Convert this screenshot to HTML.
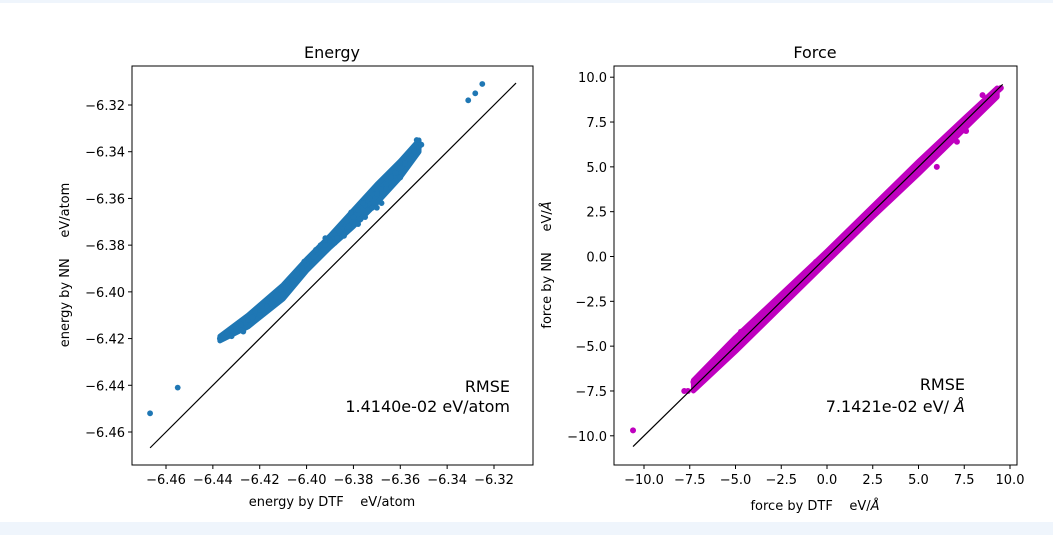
<!DOCTYPE html>
<html><head><meta charset="utf-8"><style>
body{margin:0;width:1053px;height:535px;overflow:hidden;background:#fff;font-family:"Liberation Sans","DejaVu Sans",sans-serif}
#bot{position:absolute;left:0;top:522px;width:1053px;height:13px;background:#eff5fc}
#top{position:absolute;left:0;top:0;width:1053px;height:3px;background:#eff5fc}
svg{position:absolute;left:0;top:0}
text{font-family:"DejaVu Sans","Liberation Sans",sans-serif;fill:#000}
</style></head><body>
<div id="top"></div>
<div id="bot"></div>
<svg id="chart" width="1053" height="535"></svg>
<script>
const energyTicks=[-6.46,-6.44,-6.42,-6.40,-6.38,-6.36,-6.34,-6.32];
const energyLine=[-6.4668,-6.3106];
const energyBandX=[-6.437,-6.425,-6.410,-6.400,-6.390,-6.380,-6.370,-6.360,-6.352];
const energyBandUpper=[-6.419,-6.410,-6.397,-6.386,-6.376,-6.365,-6.354,-6.344,-6.335];
const energyBandLower=[-6.421,-6.415,-6.403,-6.391,-6.381,-6.372,-6.362,-6.351,-6.340];
const energyDFT=[-6.4668,-6.4550,-6.4370,-6.4355,-6.4340,-6.4320,-6.4300,-6.4280,-6.4270,-6.4250,-6.4230,-6.4220,-6.4200,-6.4190,-6.4170,-6.4150,-6.4130,-6.4110,-6.4100,-6.4080,-6.4060,-6.4040,-6.4020,-6.4000,-6.3990,-6.3970,-6.3950,-6.3940,-6.3920,-6.3900,-6.3880,-6.3870,-6.3850,-6.3830,-6.3820,-6.3800,-6.3780,-6.3770,-6.3750,-6.3730,-6.3720,-6.3700,-6.3680,-6.3660,-6.3640,-6.3620,-6.3600,-6.3580,-6.3560,-6.3540,-6.3520,-6.3530,-6.3510,-6.3780,-6.3750,-6.3700,-6.3680,-6.3880,-6.3840,-6.3920,-6.3960,-6.4010,-6.3860,-6.3810,-6.3760,-6.3660,-6.3600,-6.3310,-6.3280,-6.3250];
const energyNN=[-6.4520,-6.4410,-6.4200,-6.4195,-6.4175,-6.4190,-6.4160,-6.4140,-6.4170,-6.4120,-6.4110,-6.4080,-6.4100,-6.4060,-6.4040,-6.4050,-6.4020,-6.3990,-6.4010,-6.3960,-6.3950,-6.3920,-6.3900,-6.3880,-6.3860,-6.3850,-6.3830,-6.3800,-6.3800,-6.3780,-6.3750,-6.3770,-6.3730,-6.3700,-6.3720,-6.3680,-6.3650,-6.3690,-6.3630,-6.3600,-6.3640,-6.3580,-6.3560,-6.3540,-6.3510,-6.3490,-6.3470,-6.3450,-6.3430,-6.3400,-6.3380,-6.3350,-6.3370,-6.3710,-6.3680,-6.3640,-6.3620,-6.3790,-6.3760,-6.3770,-6.3820,-6.3870,-6.3740,-6.3660,-6.3620,-6.3560,-6.3510,-6.3180,-6.3150,-6.3110];
const forceTicks=[-10,-7.5,-5,-2.5,0,2.5,5,7.5,10];
const forceTickLabels=["\u221210.0","\u22127.5","\u22125.0","\u22122.5","0.0","2.5","5.0","7.5","10.0"];
const forceLine=[-10.6,9.6];
const forceBandX=[-7.3,-5.0,-2.5,0.0,2.5,5.0,7.5,9.3];
const forceBandUpper=[-6.9,-4.5,-2.1,0.3,2.8,5.3,7.7,9.4];
const forceBandLower=[-7.5,-5.3,-2.8,-0.3,2.2,4.6,7.1,8.9];
const forceDFT=[-10.6,-7.8,-7.6,-7.3,-7.0,-6.8,-6.6,-6.4,-6.2,-6.0,-5.8,-5.6,-5.4,-5.2,-5.0,-4.8,-4.6,-4.4,-4.2,-4.0,-3.8,-3.6,-3.4,-3.2,-3.0,-2.8,-2.6,-2.4,-2.2,-2.0,-1.8,-1.6,-1.4,-1.2,-1.0,-0.8,-0.6,-0.4,-0.2,0.0,0.2,0.4,0.6,0.8,1.0,1.2,1.4,1.6,1.8,2.0,2.2,2.4,2.6,2.8,3.0,3.2,3.4,3.6,3.8,4.0,4.2,4.4,4.6,4.8,5.0,5.2,5.4,5.6,5.8,6.0,6.2,6.4,6.6,6.8,7.0,7.2,7.4,7.6,7.8,8.0,8.2,8.4,8.6,8.8,9.0,9.2,9.4,9.5,
-5.9,-4.7,-3.5,6.0,7.1,7.6,8.5];
const forceNN=[-9.7,-7.5,-7.5,-7.0,-6.9,-6.6,-6.4,-6.1,-5.9,-5.8,-5.5,-5.3,-5.2,-4.9,-4.7,-4.6,-4.3,-4.1,-4.0,-3.7,-3.5,-3.3,-3.1,-3.0,-2.7,-2.5,-2.4,-2.1,-1.9,-1.8,-1.5,-1.4,-1.2,-0.9,-0.8,-0.6,-0.3,-0.2,0.0,0.2,0.3,0.5,0.8,0.9,1.1,1.3,1.5,1.7,1.9,2.1,2.2,2.5,2.7,2.8,3.1,3.2,3.5,3.6,3.8,4.1,4.2,4.4,4.7,4.8,5.0,5.2,5.5,5.6,5.8,6.0,6.2,6.4,6.6,6.8,7.0,7.2,7.4,7.6,7.7,8.0,8.2,8.4,8.5,8.8,9.0,9.2,9.3,9.4,
-5.5,-4.2,-3.2,5.0,6.4,7.0,9.0];

const NS='http://www.w3.org/2000/svg';
const svg=document.getElementById('chart');
function mk(tag,attrs,parent){const e=document.createElementNS(NS,tag);for(const k in attrs)e.setAttribute(k,attrs[k]);(parent||svg).appendChild(e);return e;}
const ex=v=>166+(v+6.46)*328/0.14;
const ey=v=>432-(v+6.46)*327/0.14;
const fx=v=>827+v*18.3;
const fy=v=>256.5-v*17.93;

function panel(name){
  const g=mk('g',{});
  
  
  return g;
}
function frame(g,L,T,R,B){
  const r=mk('rect',{x:L,y:T,width:R-L,height:B-T,fill:'none',stroke:'#000','stroke-width':1},g);
  
  
}
function band(g,xs,up,lo,sx,sy,color,sw,name){
  const pts=[];
  xs.forEach((x,i)=>pts.push(sx(x)+','+sy(up[i])));
  for(let i=xs.length-1;i>=0;i--)pts.push(sx(xs[i])+','+sy(lo[i]));
  const p=mk('polygon',{points:pts.join(' '),fill:color,stroke:color,'stroke-width':sw,'stroke-linejoin':'round'},g);
  
  
}
// Energy panel
const gE=panel('energy-panel');
band(gE,energyBandX,energyBandUpper,energyBandLower,ex,ey,'#1f77b4',5,'energy-dense-band');
energyDFT.forEach((d,i)=>{
  const c=mk('circle',{cx:ex(d),cy:ey(energyNN[i]),r:2.9,fill:'#1f77b4'},gE);
  
  
});
const le=mk('line',{x1:ex(energyLine[0]),y1:ey(energyLine[0]),x2:ex(energyLine[1]),y2:ey(energyLine[1]),stroke:'#000','stroke-width':1.2},gE);


frame(gE,132,66,533,465);
energyTicks.forEach(t=>{
  const lab=t.toFixed(2).replace('-','\u2212');
  mk('line',{x1:ex(t),y1:465,x2:ex(t),y2:469,stroke:'#000'},gE);
  const tx=mk('text',{x:ex(t),y:484,'text-anchor':'middle','font-size':13},gE);tx.textContent=lab;
  
  
  mk('line',{x1:128,y1:ey(t),x2:132,y2:ey(t),stroke:'#000'},gE);
  const ty=mk('text',{x:125,y:ey(t)+5,'text-anchor':'end','font-size':13},gE);ty.textContent=lab;
  
  
});
// Force panel
const gF=panel('force-panel');
band(gF,forceBandX,forceBandUpper,forceBandLower,fx,fy,'#bf00bf',5,'force-dense-band');
forceDFT.forEach((d,i)=>{
  const c=mk('circle',{cx:fx(d),cy:fy(forceNN[i]),r:3,fill:'#bf00bf'},gF);
  
  
});
const lf=mk('line',{x1:fx(forceLine[0]),y1:fy(forceLine[0]),x2:fx(forceLine[1]),y2:fy(forceLine[1]),stroke:'#000','stroke-width':1.2},gF);


frame(gF,614,66,1017,465);
forceTicks.forEach((t,i)=>{
  const lab=forceTickLabels[i];
  mk('line',{x1:fx(t),y1:465,x2:fx(t),y2:469,stroke:'#000'},gF);
  const tx=mk('text',{x:fx(t),y:484,'text-anchor':'middle','font-size':13},gF);tx.textContent=lab;
  
  
  mk('line',{x1:610,y1:fy(t),x2:614,y2:fy(t),stroke:'#000'},gF);
  const ty=mk('text',{x:607,y:fy(t)+5,'text-anchor':'end','font-size':13},gF);ty.textContent=lab;
  
  
});
</script>
<svg width="1053" height="535" style="position:absolute;left:0;top:0">
<text x="332" y="58" text-anchor="middle" font-size="16">Energy</text>
<text x="815" y="58" text-anchor="middle" font-size="16">Force</text>
<text x="332" y="506" text-anchor="middle" font-size="13">energy by DTF &#160;&#160;&#160;eV/atom</text>
<text x="815" y="510" text-anchor="middle" font-size="13">force by DTF &#160;&#160;&#160;eV/<tspan font-style="italic">Å</tspan></text>
<text transform="translate(69,265) rotate(-90)" text-anchor="middle" font-size="13">energy by NN &#160;&#160;&#160;&#160;eV/atom</text>
<text transform="translate(551,265) rotate(-90)" text-anchor="middle" font-size="13">force by NN &#160;&#160;&#160;&#160;eV/<tspan font-style="italic">Å</tspan></text>
<text x="510" y="392" text-anchor="end" font-size="16">RMSE</text>
<text x="510" y="412" text-anchor="end" font-size="16">1.4140e-02 eV/atom</text>
<text x="965" y="390" text-anchor="end" font-size="16">RMSE</text>
<text x="965" y="412" text-anchor="end" font-size="16">7.1421e-02 eV/ <tspan font-style="italic">Å</tspan></text>
</svg>
</body></html>
